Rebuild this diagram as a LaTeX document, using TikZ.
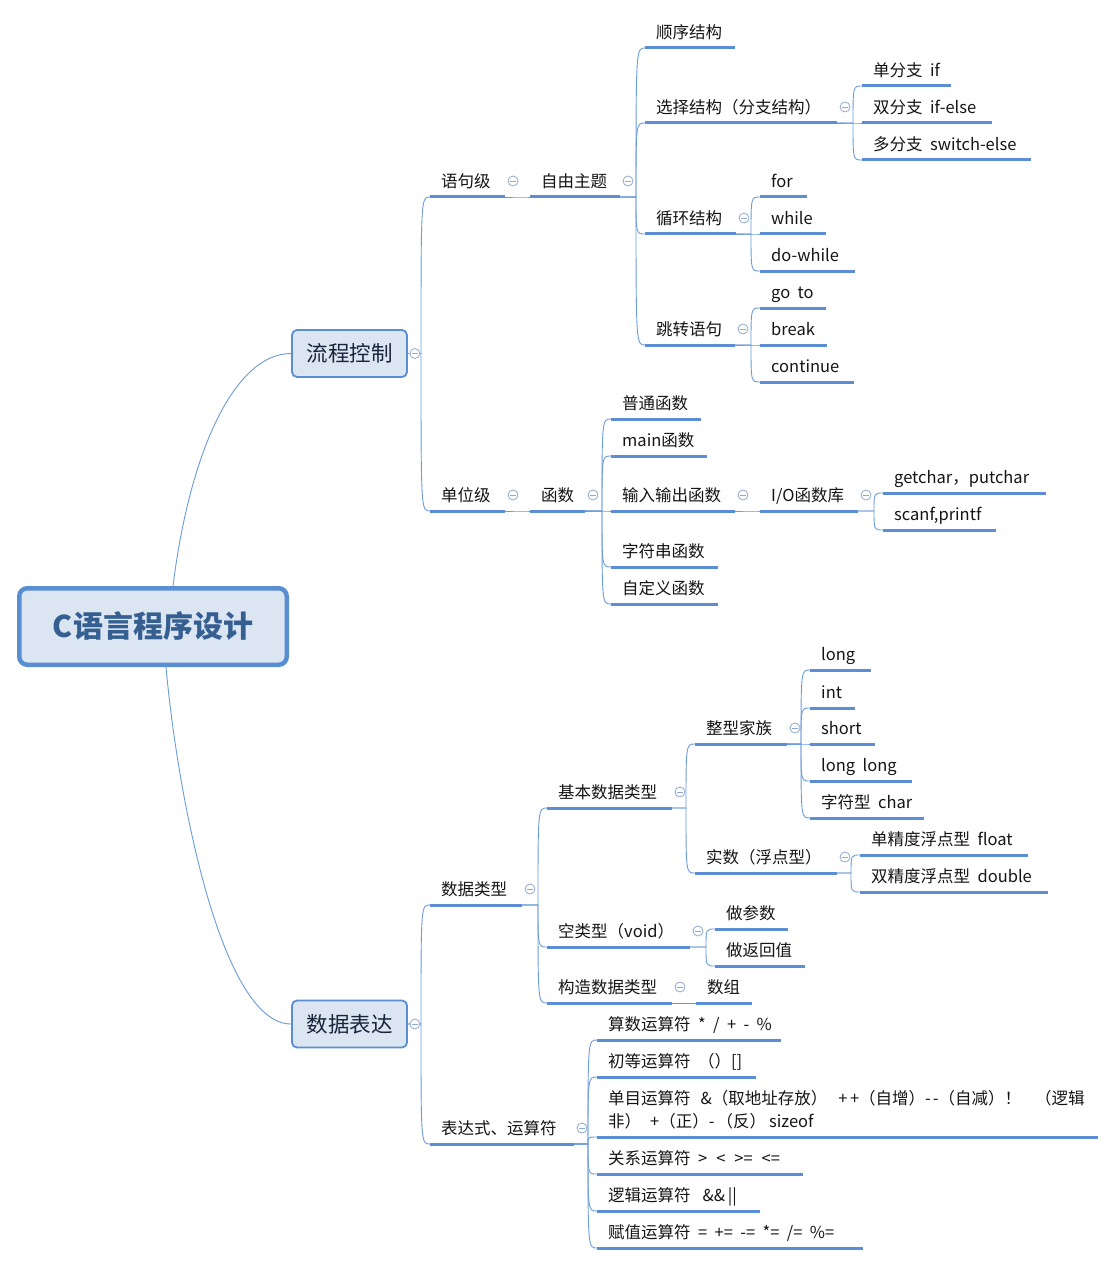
\documentclass[tikz,border=0pt]{standalone}
\usepackage{fontspec}
\setmainfont[WordSpace=2]{Noto Sans CJK SC}
\usetikzlibrary{calc}
\definecolor{lineblue}{HTML}{5B8ED5}
\definecolor{connblue}{HTML}{6A9BDB}
\definecolor{boxfill}{HTML}{DCE6F2}
\definecolor{boxborder}{HTML}{5A8ED2}
\definecolor{roottext}{HTML}{365F91}
\definecolor{foldc}{HTML}{8EAAD0}
\definecolor{txt}{HTML}{141414}
\definecolor{boxtext}{HTML}{17243A}
\newcommand\topic[5]{%
  \coordinate (#1-l) at (#2,#3);
  \coordinate (#1-r) at (#2+#4,#3);
  \node[lab, anchor=base west] (#1) at (#2+11,#3-9.5) {#5};
  \draw[uline] (#1-l) -- (#1-r);
}
\newcommand\link[2]{%
  \draw[conn] (#1-r) -- ($(#2-l |- #1-r)+(-9,0)$) .. controls ($(#2-l)+(-9,0)$) and ($(#2-l)+(-9,0)$) .. (#2-l);
}
\newcommand\fold[1]{\node[fold] (#1-fold) at ($(#1-r)+(8,-16)$) {};}
\newcommand\opgap{\hspace{9pt}}
\begin{document}
\begin{tikzpicture}[x=1pt,y=-1pt,
  lab/.style={inner sep=0pt, font=\fontsize{16.5}{23}\selectfont, text=txt},
  uline/.style={draw=lineblue, line width=3pt},
  conn/.style={draw=connblue, line width=0.9pt},
  fold/.style={circle, draw=foldc, line width=0.8pt, fill=white, minimum size=10pt, inner sep=0pt,
    path picture={\draw[foldc, line width=0.8pt] ([xshift=-2.6pt]path picture bounding box.center) -- ([xshift=2.6pt]path picture bounding box.center);}},
  box/.style={draw=boxborder, fill=boxfill, line width=1.8pt, rounded corners=5pt,
    minimum width=115pt, minimum height=47pt, inner sep=0pt,
    font=\fontsize{21.5}{26}\selectfont, text=boxtext},
  rootbox/.style={draw=boxborder, fill=boxfill, line width=4.5pt, rounded corners=8pt,
    minimum width=267.5pt, minimum height=76.5pt, inner sep=0pt,
    font=\fontsize{30}{36}\selectfont\bfseries, text=roottext}
]
\useasboundingbox (0,0) rectangle (1116,1265);

% main nodes
\node[rootbox] (root) at (153,626.5) {C语言程序设计};
\node[box] (liucheng) at (349.5,353.5) {流程控制};
\node[box] (biaodabox) at (349.5,1024) {数据表达};
\coordinate (liucheng-r) at (liucheng.east);
\coordinate (biaodabox-r) at (biaodabox.east);

\draw[conn] ($(root.north)+(20,0)$) .. controls (190,450) and (235,353.5) .. (liucheng.west);
\draw[conn] ($(root.south)+(13,0)$) .. controls (178,800) and (222,1024) .. (biaodabox.west);

% ---------- 流程控制 ----------
\topic{yuju}{430}{197}{75}{语句级}
\topic{danwei}{430}{511}{75}{单位级}
\topic{ziyou}{530}{197}{90}{自由主题}
\topic{hanshu}{530}{511}{55}{函数}
\topic{shunxu}{645}{48}{90}{顺序结构}
\topic{xuanze}{645}{123}{192}{选择结构（分支结构）}
\topic{xunhuan}{645}{234}{91}{循环结构}
\topic{tiaozhuan}{645}{345}{90}{跳转语句}
\topic{dan}{862}{86}{89}{单分支 if}
\topic{shuang}{862}{123}{130}{双分支 if-else}
\topic{duo}{862}{160}{169}{多分支 switch-else}
\topic{for}{760}{197}{47}{for}
\topic{while}{760}{234}{66}{while}
\topic{dowhile}{760}{271}{95}{do-while}
\topic{goto}{760}{308}{66}{go to}
\topic{break}{760}{345}{67}{break}
\topic{continue}{760}{382}{94}{continue}
\topic{putong}{611}{419}{90}{普通函数}
\topic{main}{611}{456}{96}{main函数}
\topic{shuru}{611}{511}{124}{输入输出函数}
\topic{io}{760}{511}{98}{I/O函数库}
\topic{getchar}{883}{493}{163}{getchar，putchar}
\topic{scanf}{883}{530}{113}{scanf,printf}
\topic{zifu}{611}{567}{107}{字符串函数}
\topic{zidingyi}{611}{604}{107}{自定义函数}

% ---------- 数据表达 ----------
\topic{shuju}{430}{905}{92}{数据类型}
\topic{biaoda}{430}{1144}{144}{表达式、运算符}
\topic{jiben}{547}{808}{125}{基本数据类型}
\topic{kong}{547}{947}{143}{空类型（void）}
\topic{gouzao}{547}{1003}{125}{构造数据类型}
\topic{zhengxing}{695}{744}{92}{整型家族}
\topic{shishu}{695}{873}{142}{实数（浮点型）}
\topic{long}{810}{670}{61}{long}
\topic{int}{810}{708}{45}{int}
\topic{short}{810}{744}{65}{short}
\topic{longlong}{810}{781}{102}{long long}
\topic{char}{810}{818}{114}{字符型 char}
\topic{float}{860}{855}{168}{单精度浮点型 float}
\topic{double}{860}{892}{188}{双精度浮点型 double}
\topic{canshu}{715}{929}{73}{做参数}
\topic{fanhui}{715}{966}{90}{做返回值}
\topic{shuzu}{696}{1003}{56}{数组}
\topic{suanshu}{597}{1040}{184}{算数运算符 * / + - \%}
\topic{chudeng}{597}{1077}{159}{初等运算符 （）[]}
\topic{danmu}{597}{1137}{501}{\parbox[b]{495pt}{单目运算符\hspace{10pt}\&（取地址存放）\hspace{11pt}+\hspace{2.5pt}+（自增）-\hspace{2pt}-（自减）！\hspace{14pt}（逻辑\\非）\hspace{9pt}+（正）-\hspace{2pt}（反）\hspace{3pt}sizeof}}
\topic{guanxi}{597}{1174}{206}{关系运算符 >\opgap<\opgap>=\opgap<=}
\topic{luoji}{597}{1211}{163}{逻辑运算符\hspace{12pt}\&\&\,||}
\topic{fuzhi}{597}{1248}{266}{赋值运算符 = += -{}= *= /= \%=}

% ---------- connectors ----------
\foreach \c in {yuju,danwei} {\link{liucheng}{\c}}
\link{yuju}{ziyou}
\link{danwei}{hanshu}
\foreach \c in {shunxu,xuanze,xunhuan,tiaozhuan} {\link{ziyou}{\c}}
\foreach \c in {dan,shuang,duo} {\link{xuanze}{\c}}
\foreach \c in {for,while,dowhile} {\link{xunhuan}{\c}}
\foreach \c in {goto,break,continue} {\link{tiaozhuan}{\c}}
\foreach \c in {putong,main,shuru,zifu,zidingyi} {\link{hanshu}{\c}}
\link{shuru}{io}
\foreach \c in {getchar,scanf} {\link{io}{\c}}

\foreach \c in {shuju,biaoda} {\link{biaodabox}{\c}}
\foreach \c in {jiben,kong,gouzao} {\link{shuju}{\c}}
\foreach \c in {zhengxing,shishu} {\link{jiben}{\c}}
\foreach \c in {long,int,short,longlong,char} {\link{zhengxing}{\c}}
\foreach \c in {float,double} {\link{shishu}{\c}}
\foreach \c in {canshu,fanhui} {\link{kong}{\c}}
\link{gouzao}{shuzu}
\foreach \c in {suanshu,chudeng,danmu,guanxi,luoji,fuzhi} {\link{biaoda}{\c}}

% ---------- fold markers ----------
\node[fold] (liucheng-fold) at ($(liucheng.east)+(7,0)$) {};
\node[fold] (biaodabox-fold) at ($(biaodabox.east)+(7,0)$) {};
\foreach \p in {yuju,danwei,ziyou,hanshu,xuanze,xunhuan,tiaozhuan,shuru,io,
  shuju,biaoda,jiben,zhengxing,shishu,kong,gouzao} {\fold{\p}}
\end{tikzpicture}
\end{document}
